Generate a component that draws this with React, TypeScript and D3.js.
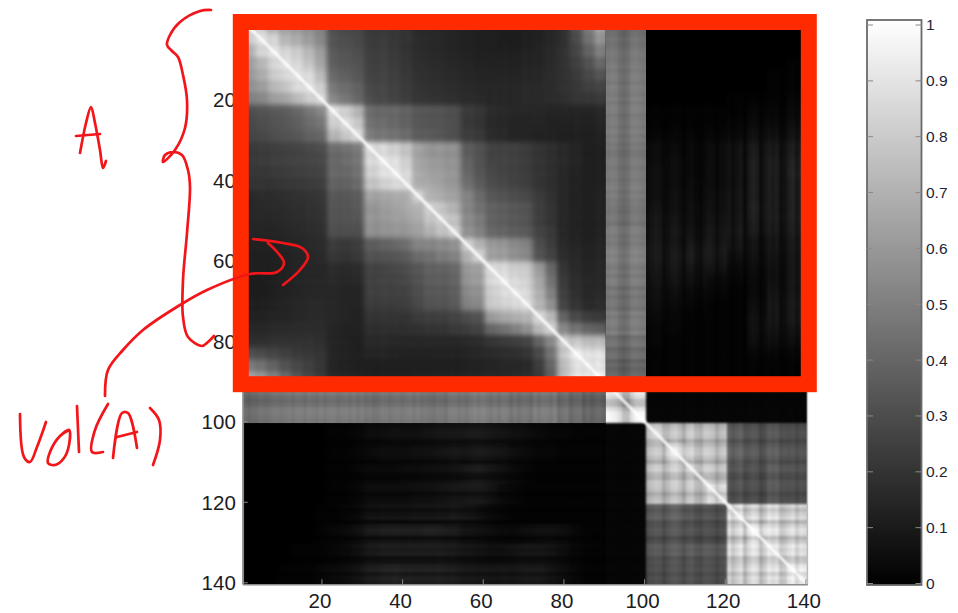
import React, { useEffect, useRef } from "react";
import * as d3 from "d3";

const WIDTH = 958;
const HEIGHT = 613;

const axisTicks = [20, 40, 60, 80, 100, 120, 140];
const barTicks = [0, 0.1, 0.2, 0.3, 0.4, 0.5, 0.6, 0.7, 0.8, 0.9, 1];

// upper triangle, 3 index wide blocks for index 1..90, values in percent
const clusterRows = [
  [88, 80, 68, 62, 60, 56, 50, 30, 28, 27, 22, 22, 21, 20, 16, 15, 15, 14, 13, 12, 12, 11, 11, 12, 13, 15, 18, 30, 48, 62],
  [88, 82, 70, 66, 60, 52, 32, 30, 28, 23, 23, 21, 20, 17, 16, 15, 14, 13, 12, 12, 11, 11, 12, 13, 15, 18, 28, 44, 56],
  [88, 82, 78, 70, 60, 34, 32, 30, 24, 24, 22, 20, 17, 16, 15, 14, 13, 12, 12, 12, 12, 13, 14, 16, 19, 26, 38, 48],
  [88, 84, 76, 64, 36, 34, 32, 25, 25, 23, 21, 18, 17, 16, 15, 14, 13, 13, 13, 13, 14, 14, 16, 19, 24, 32, 40],
  [88, 85, 72, 40, 37, 34, 26, 26, 24, 22, 19, 18, 17, 16, 15, 14, 14, 14, 14, 15, 15, 17, 19, 22, 28, 32],
  [88, 80, 46, 42, 38, 28, 27, 25, 23, 20, 19, 18, 17, 16, 15, 15, 15, 15, 16, 16, 17, 19, 21, 25, 26],
  [86, 52, 46, 40, 30, 28, 26, 24, 21, 20, 19, 18, 17, 16, 15, 15, 15, 16, 16, 17, 18, 20, 21, 22],
  [86, 80, 70, 42, 40, 40, 38, 34, 33, 32, 30, 23, 21, 17, 16, 15, 15, 15, 14, 14, 14, 14, 15],
  [86, 78, 44, 42, 40, 38, 34, 33, 32, 30, 22, 20, 16, 15, 14, 14, 14, 13, 13, 13, 13, 14],
  [86, 48, 46, 44, 42, 36, 35, 33, 30, 24, 22, 17, 16, 14, 14, 13, 13, 12, 12, 12, 13],
  [86, 84, 80, 76, 64, 58, 58, 56, 36, 32, 26, 25, 25, 23, 20, 18, 16, 14, 12, 12],
  [88, 86, 80, 64, 60, 58, 56, 38, 32, 26, 26, 25, 23, 20, 18, 16, 14, 12, 12],
  [88, 84, 66, 62, 60, 57, 40, 33, 28, 26, 25, 23, 20, 18, 15, 13, 12, 12],
  [86, 68, 66, 62, 58, 44, 36, 30, 28, 26, 24, 20, 18, 15, 13, 12, 12],
  [84, 70, 66, 62, 52, 42, 34, 32, 30, 28, 23, 19, 15, 13, 12, 13],
  [82, 76, 68, 52, 44, 38, 36, 34, 32, 24, 20, 15, 13, 12, 13],
  [80, 74, 54, 48, 38, 36, 34, 32, 24, 20, 15, 13, 12, 13],
  [80, 56, 50, 40, 38, 36, 34, 26, 22, 15, 13, 12, 13],
  [82, 70, 60, 58, 54, 50, 30, 24, 16, 14, 13, 14],
  [82, 62, 60, 56, 52, 32, 26, 17, 15, 13, 14],
  [86, 84, 80, 78, 60, 40, 20, 16, 14, 15],
  [88, 84, 80, 64, 44, 22, 17, 15, 15],
  [88, 84, 68, 50, 24, 18, 15, 16],
  [86, 70, 56, 26, 20, 16, 17],
  [84, 72, 38, 28, 24, 22],
  [82, 52, 44, 40, 36],
  [78, 74, 72, 70],
  [88, 86, 84],
  [90, 88],
  [90],
];

// index 91..100 against the 30 blocks above
const stripValues = [40, 42, 44, 45, 46, 46, 46, 46, 46, 46, 44, 45, 45, 46, 46, 44, 44, 46, 46, 48, 46, 46, 44, 44, 46, 46, 42, 40, 38, 38];
const stripSelf = 92;
const stripSelfBands = [3, 1, -2, -8, -20, -20, -6, 2, 3, 2];
const stripToTail = 2;

// index 101..140 (5 wide blocks) against the 30 blocks above
const tailToCluster = [
  [0, 0, 0, 0, 0, 0, 0, 1, 1, 2, 4, 4, 5, 5, 5, 6, 7, 7, 8, 8, 7, 6, 5, 4, 3, 2, 2, 1, 1, 1],
  [0, 0, 0, 0, 0, 0, 0, 1, 1, 2, 3, 4, 4, 4, 5, 5, 6, 7, 7, 8, 7, 6, 4, 3, 2, 2, 1, 1, 1, 1],
  [0, 0, 0, 0, 0, 0, 0, 1, 1, 2, 3, 3, 3, 4, 4, 5, 5, 6, 8, 9, 7, 5, 3, 2, 1, 1, 1, 1, 1, 1],
  [0, 0, 0, 0, 0, 0, 0, 1, 1, 2, 4, 4, 4, 4, 5, 5, 6, 7, 8, 8, 6, 3, 2, 1, 1, 1, 1, 1, 1, 1],
  [0, 0, 0, 0, 0, 0, 1, 1, 2, 3, 6, 6, 6, 6, 7, 7, 7, 8, 7, 5, 3, 2, 1, 1, 1, 1, 1, 1, 1, 1],
  [0, 0, 0, 0, 0, 0, 1, 2, 3, 5, 8, 9, 9, 9, 9, 10, 9, 8, 6, 5, 4, 3, 3, 4, 5, 5, 4, 2, 1, 1],
  [0, 0, 0, 0, 1, 1, 1, 2, 3, 5, 8, 9, 9, 9, 9, 9, 9, 8, 7, 6, 5, 5, 6, 7, 7, 6, 4, 2, 1, 1],
  [0, 0, 0, 1, 1, 1, 2, 3, 4, 6, 9, 10, 11, 10, 10, 10, 10, 9, 8, 7, 7, 7, 7, 8, 8, 6, 4, 2, 1, 1],
];

// upper triangle of the 5 wide blocks for index 101..140
const tailRows = [
  [74, 70, 72, 68, 34, 30, 32, 28],
  [80, 74, 70, 36, 32, 34, 30],
  [76, 72, 32, 30, 34, 30],
  [78, 30, 28, 32, 28],
  [82, 78, 80, 76],
  [84, 80, 78],
  [82, 80],
  [84],
];

// light and dark bands per index (percent), index 1..140
const bandValues = [
  3, -3, 2, -2, 3, 0, -3, 2, 3, -2, 0, 3, -3, 2, 1, -3, 3, 0, -2, 3,
  -2, 2, 3, -3, 0, 2, -2, 3, -3, 2, 0, 3, -2, -3, 3, 2, -2, 2, 3, -3,
  0, 3, -2, 2, -3, 3, 0, -2, 3, 2, -3, 2, 3, -2, 0, -3, 3, 2, -2, 3,
  2, -3, 4, -4, 4, 2, -4, 4, -3, 3, 2, -4, 4, -3, 3, 2, -3, 5, -4, 3,
  5, -4, 4, 6, -5, 4, -5, 3, 5, -3,
  4, 7, 5, -5, -9, -4, 7, 8, 5, 2,
  -4, 3, 8, 6, -9, -3, 7, 9, 1, -11, 4, 7, -6, -10, 3, 9, 5, -8, 2, 6,
  5, -7, 2, 9, -12, 1, 10, 6, -13, -2, 8, 3, 7, -10, -6, 4, 9, -4, 6, 2,
];

const blockOf = (i: number) => {
  const k = i - 1;
  if (k < 90) return Math.floor(k / 3);
  if (k < 100) return 30 + Math.floor((k - 90) / 5);
  return 32 + Math.floor((k - 100) / 5);
};

const cellValue = (i: number, j: number) => {
  const a = Math.min(blockOf(i), blockOf(j));
  const b = Math.max(blockOf(i), blockOf(j));
  let base = 0;
  let bandGain = 1;
  if (a >= 30 && b < 32) {
    const v = stripSelf + stripSelfBands[i - 91] + stripSelfBands[j - 91];
    return Math.max(0, Math.min(1, v / 100));
  }
  if (b < 30) base = clusterRows[a][b - a];
  else if (b < 32) base = stripValues[a];
  else if (a < 30) {
    base = tailToCluster[b - 32][a];
    bandGain = 4; // the faint part has much stronger streaks
  } else if (a < 32) base = stripToTail;
  else base = tailRows[a - 32][b - a];
  const v = (base * (1 + (bandGain * (bandValues[i - 1] + bandValues[j - 1])) / 100)) / 100;
  return Math.max(0, Math.min(1, v));
};

// parts of the matrix, each one softened on its own so the block edges stay sharp
const regions = [
  { rows: [1, 90], cols: [1, 90], blur: "2.8" },
  { rows: [1, 90], cols: [91, 100], blur: "1" },
  { rows: [91, 100], cols: [1, 90], blur: "1" },
  { rows: [1, 90], cols: [101, 140], blur: "0.9 3.5" },
  { rows: [101, 140], cols: [1, 90], blur: "3.5 0.9" },
  { rows: [91, 140], cols: [91, 140], blur: "1" },
];

const pen = "#f2161a";
const box = "#ff2a00";

// handwriting on top of the chart
const penStrokes: [number, number][][] = [
  [[211, 10], [200, 11], [180, 22], [170, 35], [167, 45], [172, 51], [178, 57], [183, 75], [187, 100], [185, 128], [175, 150], [163, 162], [165, 155], [173, 152], [182, 155], [188, 170], [190, 187], [187, 233], [183, 280], [183, 317], [188, 337], [202, 346], [208, 342], [214, 336]],
  [[80, 153], [86, 123], [91, 107], [95, 123], [100, 150], [103, 168], [106, 161]],
  [[76, 136], [100, 134]],
  [[105, 396], [108, 370], [123, 350], [143, 330], [180, 305], [207, 290], [250, 274], [277, 272], [284, 263], [278, 253], [268, 243]],
  [[253, 239], [283, 243], [302, 248], [308, 257], [300, 270], [283, 285]],
  [[20, 414], [24, 457], [30, 462], [37, 447], [46, 422]],
  [[69, 430], [60, 436], [50, 452], [48, 463], [55, 465], [64, 458], [69, 445], [69, 430], [60, 436]],
  [[77, 406], [79, 452]],
  [[108, 404], [95, 430], [92, 452], [103, 452]],
  [[113, 458], [122, 413], [128, 413], [137, 448]],
  [[117, 437], [137, 432]],
  [[150, 408], [159, 420], [160, 440], [153, 465]],
];

export default function App() {
  const svgRef = useRef<SVGSVGElement>(null);

  useEffect(() => {
    const svg = d3.select(svgRef.current);
    svg.selectAll("*").remove();

    const x = d3.scaleLinear().domain([0.5, 140.5]).range([242.8, 807.4]);
    const y = d3.scaleLinear().domain([0.5, 140.5]).range([20.8, 584.3]);
    const gray = d3.scaleLinear<string>().domain([0, 1]).range(["#000", "#fff"]);

    const defs = svg.append("defs");
    const barY = d3.scaleLinear().domain([0, 1]).range([583.5, 25]);
    const grad = defs
      .append("linearGradient")
      .attr("id", "bar-fill")
      .attr("x1", 0)
      .attr("x2", 0)
      .attr("y1", 1)
      .attr("y2", 0);
    grad.append("stop").attr("offset", 0).attr("stop-color", gray(0));
    grad.append("stop").attr("offset", 1).attr("stop-color", gray(1));

    // black backing so no white shows between the parts
    svg
      .append("rect")
      .attr("x", x(0.5))
      .attr("y", y(0.5))
      .attr("width", x(140.5) - x(0.5))
      .attr("height", y(140.5) - y(0.5))
      .attr("fill", gray(0));

    const margin = 8;
    const clamp = (v: number, r: number[]) => Math.max(r[0], Math.min(r[1], v));
    regions.forEach((reg, n) => {
      defs
        .append("clipPath")
        .attr("id", `clip-${n}`)
        .append("rect")
        .attr("x", x(reg.cols[0] - 0.5))
        .attr("y", y(reg.rows[0] - 0.5))
        .attr("width", x(reg.cols[1] + 0.5) - x(reg.cols[0] - 0.5))
        .attr("height", y(reg.rows[1] + 0.5) - y(reg.rows[0] - 0.5));
      defs
        .append("filter")
        .attr("id", `soft-${n}`)
        .attr("filterUnits", "userSpaceOnUse")
        .attr("color-interpolation-filters", "sRGB")
        .attr("x", 180)
        .attr("y", 0)
        .attr("width", 700)
        .attr("height", 613)
        .append("feGaussianBlur")
        .attr("stdDeviation", reg.blur);

      const layer = svg
        .append("g")
        .attr("clip-path", `url(#clip-${n})`)
        .append("g")
        .attr("filter", `url(#soft-${n})`)
        .attr("shape-rendering", "crispEdges");
      const cols = d3.range(reg.cols[0] - margin, reg.cols[1] + margin + 1);
      d3.range(reg.rows[0] - margin, reg.rows[1] + margin + 1).forEach((i) => {
        layer
          .append("g")
          .selectAll("rect")
          .data(cols)
          .join("rect")
          .attr("x", (j) => x(j - 0.5))
          .attr("y", y(i - 0.5))
          .attr("width", x(1.5) - x(0.5) + 0.5)
          .attr("height", y(1.5) - y(0.5) + 0.5)
          .attr("fill", (j) => gray(cellValue(clamp(i, reg.rows), clamp(j, reg.cols))));
      });
    });

    // the thin bright diagonal
    defs
      .append("clipPath")
      .attr("id", "plot-clip")
      .append("rect")
      .attr("x", x(0.5))
      .attr("y", y(0.5))
      .attr("width", x(140.5) - x(0.5))
      .attr("height", y(140.5) - y(0.5));
    defs
      .append("filter")
      .attr("id", "soft-diag")
      .attr("filterUnits", "userSpaceOnUse")
      .attr("color-interpolation-filters", "sRGB")
      .attr("x", 180)
      .attr("y", 0)
      .attr("width", 700)
      .attr("height", 613)
      .append("feGaussianBlur")
      .attr("stdDeviation", 0.9);
    svg
      .append("g")
      .attr("clip-path", "url(#plot-clip)")
      .append("path")
      .attr("d", d3.line<number>().x((d) => x(d)).y((d) => y(d))([0.5, 140.5]))
      .attr("stroke", gray(1))
      .attr("stroke-width", 2.6)
      .attr("fill", "none")
      .attr("filter", "url(#soft-diag)");

    // axes
    const styleAxis = (g: any) => {
      g.selectAll("path").attr("stroke", "#8a8a8a").attr("stroke-width", 1.5);
      g.selectAll("line").attr("stroke", "#8a8a8a");
      g.selectAll("text")
        .attr("font-family", "'Liberation Sans', Arial, sans-serif")
        .attr("font-size", 20.5)
        .attr("fill", "#1c1c24");
    };
    svg
      .append("g")
      .attr("transform", `translate(${x(0.5)},0)`)
      .call(d3.axisLeft(y).tickValues(axisTicks).tickSize(-5).tickSizeOuter(0).tickPadding(7))
      .call(styleAxis)
      .selectAll("text")
      .attr("dy", "0.37em");
    svg
      .append("g")
      .attr("transform", `translate(0,${y(140.5)})`)
      .call(d3.axisBottom(x).tickValues(axisTicks).tickSize(-5).tickSizeOuter(0).tickPadding(9))
      .call(styleAxis)
      .selectAll("text")
      .attr("dx", -2);
    svg
      .append("line")
      .attr("x1", x(140.5))
      .attr("x2", x(140.5))
      .attr("y1", y(0.5))
      .attr("y2", y(140.5))
      .attr("stroke", "#bbb")
      .attr("stroke-width", 1.5);

    // colorbar
    const barLeft = 867;
    const barRight = 921.5;
    svg
      .append("rect")
      .attr("x", barLeft)
      .attr("y", 20)
      .attr("width", barRight - barLeft)
      .attr("height", 565)
      .attr("fill", "url(#bar-fill)")
      .attr("stroke", "#6a6a6a")
      .attr("stroke-width", 1.8);
    const barTick = svg
      .append("g")
      .selectAll("g")
      .data(barTicks)
      .join("g")
      .attr("transform", (d) => `translate(0,${barY(d)})`);
    barTick
      .append("line")
      .attr("x1", barLeft)
      .attr("x2", barLeft + 6)
      .attr("stroke", "#8a8a8a");
    barTick
      .append("line")
      .attr("x1", barRight - 6)
      .attr("x2", barRight)
      .attr("stroke", "#8a8a8a");
    barTick
      .append("text")
      .attr("x", 926)
      .attr("dy", "0.35em")
      .attr("font-family", "'Liberation Sans', Arial, sans-serif")
      .attr("font-size", 15.5)
      .attr("fill", "#1c2438")
      .text((d) => String(d));

    // red box and pen marks
    svg
      .append("rect")
      .attr("x", 240.8)
      .attr("y", 22)
      .attr("width", 568)
      .attr("height", 362.2)
      .attr("fill", "none")
      .attr("stroke", box)
      .attr("stroke-width", 16);
    const penLine = d3.line().curve(d3.curveCatmullRom.alpha(0.5));
    svg
      .append("g")
      .selectAll("path")
      .data(penStrokes)
      .join("path")
      .attr("d", (d) => penLine(d))
      .attr("fill", "none")
      .attr("stroke", pen)
      .attr("stroke-width", 2.7)
      .attr("stroke-linecap", "round")
      .attr("stroke-linejoin", "round");
  }, []);

  return (
    <svg
      ref={svgRef}
      width={WIDTH}
      height={HEIGHT}
      style={{ position: "absolute", left: 0, top: 0, background: "#fff" }}
    />
  );
}
